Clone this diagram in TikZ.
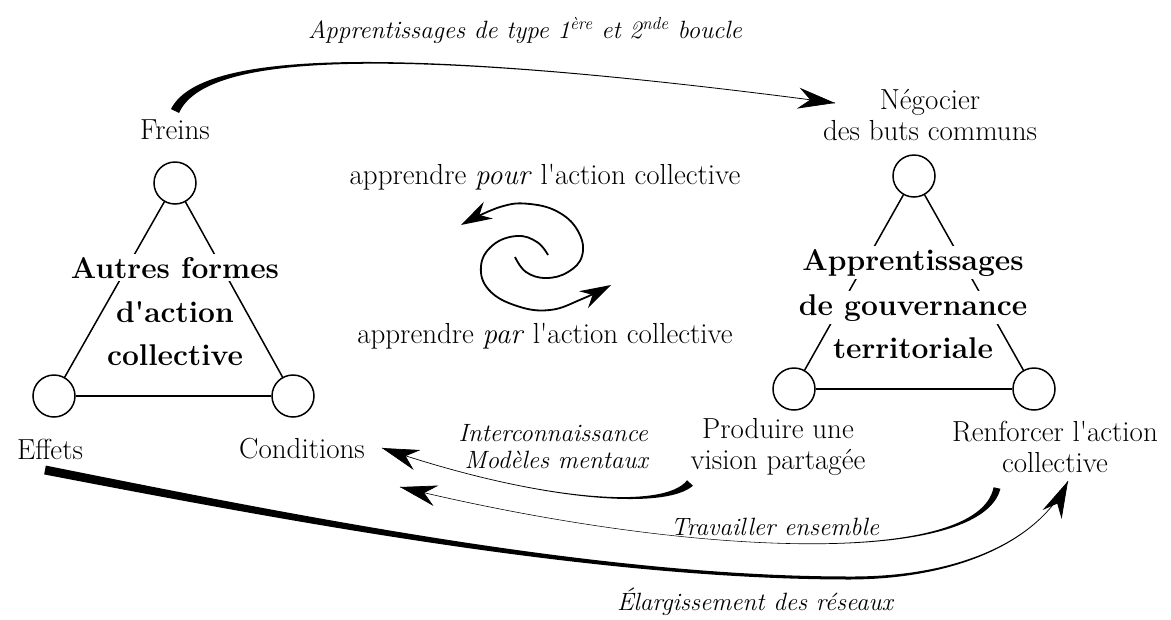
\documentclass[tikz,border=0pt]{standalone}
\usepackage{fontspec}
\usetikzlibrary{arrows.meta,calc}
% tapered shaft: #1 start, #2 #3 controls, #4 end, #5 half width at start, #6 half width at first control, #7 half width at end
\newcommand{\tapershaft}[7]{%
  \fill ($(#1)!#5!90:(#2)$) .. controls ($(#2)!#6!-90:(#1)$) and ($(#3)!#7!90:(#4)$) .. ($(#4)!#7!-90:(#3)$)
   -- ($(#4)!#7!90:(#3)$) .. controls ($(#3)!#7!-90:(#4)$) and ($(#2)!#6!90:(#1)$) .. ($(#1)!#5!-90:(#2)$) -- cycle;}
\begin{document}
\begin{tikzpicture}[x=1pt,y=-1pt,
  circ/.style={draw,circle,line width=1.5pt,minimum size=42pt,inner sep=0pt},
  side/.style={line width=1.5pt},
  lab/.style={font=\fontsize{29}{31}\selectfont,align=center,inner sep=0pt},
  big/.style={font=\fontsize{30}{34}\selectfont\bfseries,fill=white,inner sep=3pt,anchor=base},
  ital/.style={font=\fontsize{25}{27}\selectfont\itshape,inner sep=0pt},
  head/.style={line width=0.7pt,-{Stealth[length=37pt,width=21pt,inset=12pt]}},
  swirl/.style={line width=1.8pt,-{Stealth[length=31pt,width=19pt,inset=10pt]}}
]
\useasboundingbox (0,0) rectangle (1171,619);

% ---- left triangle
\node[circ] (lt) at (175,183) {};
\node[circ] (lb) at (54,396) {};
\node[circ] (lr) at (293,396) {};
\draw[side] (lt) -- (lb);
\draw[side] (lt) -- (lr);
\draw[side] (lb) -- (lr);
\node[big] (lx1) at (175,278) {Autres formes};
\node[big] (lx2) at (175,322) {d\textquotesingle action};
\node[big] (lx3) at (175,365) {collective};

% ---- right triangle
\node[circ] (rt) at (914,176) {};
\node[circ] (rb) at (794,389) {};
\node[circ] (rr) at (1034,389) {};
\draw[side] (rt) -- (rb);
\draw[side] (rt) -- (rr);
\draw[side] (rb) -- (rr);
\node[big] (rx1) at (913,270) {Apprentissages};
\node[big] (rx2) at (913,315) {de gouvernance};
\node[big] (rx3) at (913,358) {territoriale};

% ---- labels
\node[lab] (freins) at (175,130) {Freins};
\node[lab] (nego) at (930,115) {Négocier\\des buts communs};
\node[lab] (effets) at (50,449) {Effets};
\node[lab] (cond) at (302,449) {Conditions};
\node[lab] (prod) at (778,447) {Produire une\\vision partagée};
\node[lab] (renf) at (1055,447) {Renforcer l\textquotesingle action\\collective};
\node[lab] (pour) at (545,177) {apprendre \textit{pour} l\textquotesingle action collective};
\node[lab] (par) at (545,336) {apprendre \textit{par} l\textquotesingle action collective};

\node[ital] (boucle) at (525,30) {Apprentissages de type 1\textsuperscript{ère} et 2\textsuperscript{nde} boucle};
\node[ital,align=right,anchor=east] (inter) at (648,447) {Interconnaissance\\Modèles mentaux};
\node[ital] (trav) at (775,527) {Travailler ensemble};
\node[ital] (elarg) at (755,602) {Élargissement des réseaux};

% ---- spiral
\draw[swirl] plot[smooth,tension=0.7] coordinates {(548,255) (537,242) (517,236) (493,245) (481,266) (489,290) (517,306) (550,310) (582,299) (611,285)};
\draw[swirl] plot[smooth,tension=0.7] coordinates {(515,257) (526,272) (546,278) (568,272) (582,256) (579,233) (560,213) (530,204) (500,207) (461,225)};

% ---- tapered arrows
% top: Freins -> Negocier
\coordinate (a1) at (175,111); \coordinate (b1) at (202,54); \coordinate (c1) at (380,43); \coordinate (d1) at (835,103);
\tapershaft{a1}{b1}{c1}{d1}{4.5pt}{3pt}{0.4pt}
\draw[head] ($(d1)!2pt!(c1)$) -- (d1);

% Produire -> Conditions
\coordinate (a2) at (690,483); \coordinate (b2) at (665,510); \coordinate (c2) at (540,502); \coordinate (d2) at (382,448);
\tapershaft{a2}{b2}{c2}{d2}{4pt}{0.5pt}{0.35pt}
\draw[head] ($(d2)!2pt!(c2)$) -- (d2);

% Renforcer -> Conditions
\coordinate (a3) at (997,488); \coordinate (b3) at (980,565); \coordinate (c3) at (700,560); \coordinate (d3) at (400,487);
\tapershaft{a3}{b3}{c3}{d3}{3.5pt}{1pt}{0.3pt}
\draw[head] ($(d3)!2pt!(c3)$) -- (d3);

% Effets -> Renforcer
\coordinate (a4) at (45,470); \coordinate (b4) at (300,520); \coordinate (c4) at (600,578); \coordinate (m4) at (850,578);
\coordinate (e4) at (960,578); \coordinate (f4) at (1040,540); \coordinate (d4) at (1068,481);
\tapershaft{a4}{b4}{c4}{m4}{4.5pt}{3.5pt}{1.5pt}
\tapershaft{m4}{e4}{f4}{d4}{1.5pt}{1pt}{0.35pt}
\draw[head] ($(d4)!2pt!(f4)$) -- (d4);
\end{tikzpicture}
\end{document}
